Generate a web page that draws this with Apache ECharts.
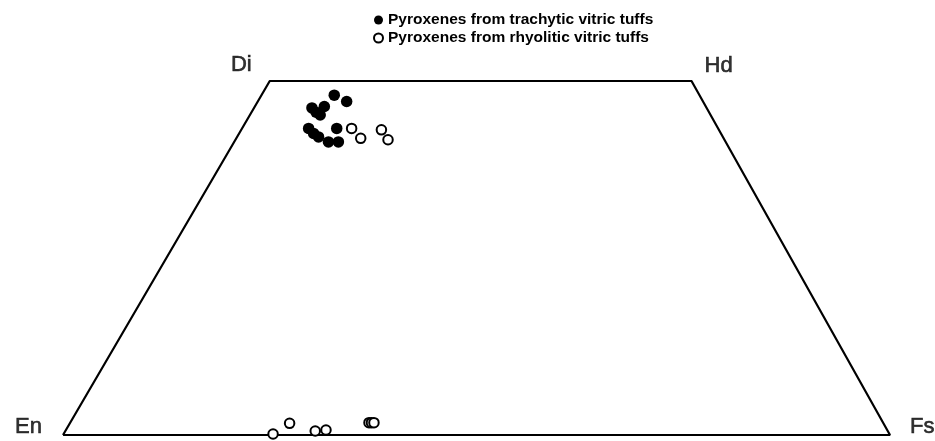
<!DOCTYPE html>
<html>
<head>
<meta charset="utf-8">
<script src="https://cdn.jsdelivr.net/npm/echarts@6/dist/echarts.min.js"></script>
<style>html,body{margin:0;padding:0;background:#fff;}#c{width:935px;height:441px;}</style>
</head>
<body>
<div id="c"></div>
<script>
// Quadrilateral outline (x = position along En–Fs, y = Wo)
const outlineX = [0, 25, 76, 100, 0];
const outlineY = [0, 50, 50, 0, 0];
const cornerNames = ['En', 'Di', 'Hd', 'Fs'];
const cornerX = [0, 25, 76, 100];
const cornerY = [0, 50, 50, 0];

const trachyticName = 'Pyroxenes from trachytic vitric tuffs';
const trachyticX = [32.8, 34.3, 30.1, 31.6, 31.1, 30.6, 29.7, 30.3, 30.9, 32.1, 33.3, 33.1];
const trachyticY = [48.0, 47.1, 46.2, 46.4, 45.2, 45.6, 43.3, 42.6, 42.1, 41.4, 41.4, 43.3];

const rhyoliticName = 'Pyroxenes from rhyolitic vitric tuffs';
const rhyoliticX = [34.9, 36.0, 38.5, 39.3, 25.4, 27.4, 30.5, 31.8, 37.0, 37.3, 37.6];
const rhyoliticY = [43.3, 41.9, 43.1, 41.7, 0.14, 1.65, 0.56, 0.7, 1.74, 1.74, 1.74];

const zip = (a, b) => a.map((v, i) => [v, b[i]]);

const labelPos = {
  En: {position: 'left', distance: 21, offset: [0, -8]},
  Fs: {position: 'right', distance: 20, offset: [0, -8]},
  Di: {position: 'left', distance: 18, offset: [0, -16]},
  Hd: {position: 'right', distance: 13, offset: [0, -15]}
};
const cornerFont = {fontFamily: 'Liberation Sans', fontSize: 22, color: '#000', textBorderColor: '#000', textBorderWidth: 0.6};

const chart = echarts.init(document.getElementById('c'));
chart.setOption({
  animation: false,
  backgroundColor: '#fff',
  grid: {left: 63, right: 45, top: 81, bottom: 6},
  xAxis: {type: 'value', min: 0, max: 100, show: false},
  yAxis: {type: 'value', min: 0, max: 50, show: false},
  legend: {
    orient: 'vertical',
    left: 368,
    top: 7,
    itemWidth: 9,
    itemHeight: 9,
    itemGap: 2,
    textStyle: {fontFamily: 'Liberation Sans', fontSize: 15.5, fontWeight: 'bold', color: '#000', lineHeight: 16},
    data: [
      {name: trachyticName, icon: 'circle'},
      {name: rhyoliticName, icon: 'emptyCircle'}
    ]
  },
  series: [
    {
      type: 'line',
      data: zip(outlineX, outlineY),
      symbol: 'none',
      lineStyle: {color: '#000', width: 2.2},
      silent: true,
      z: 1
    },
    {
      type: 'scatter',
      data: cornerNames.map((n, i) => ({
        value: [cornerX[i], cornerY[i]],
        name: n,
        label: Object.assign({show: true, formatter: n}, cornerFont, labelPos[n])
      })),
      symbolSize: 0,
      label: cornerFont,
      z: 2
    },
    {
      name: trachyticName,
      type: 'scatter',
      data: zip(trachyticX, trachyticY),
      symbol: 'circle',
      symbolSize: 11.5,
      itemStyle: {color: '#000', opacity: 1},
      z: 3
    },
    {
      name: rhyoliticName,
      type: 'scatter',
      data: zip(rhyoliticX, rhyoliticY),
      symbol: 'emptyCircle',
      symbolSize: 9.5,
      itemStyle: {color: '#000', borderColor: '#000', borderWidth: 2.3, opacity: 1},
      z: 4
    }
  ]
});
</script>
</body>
</html>
